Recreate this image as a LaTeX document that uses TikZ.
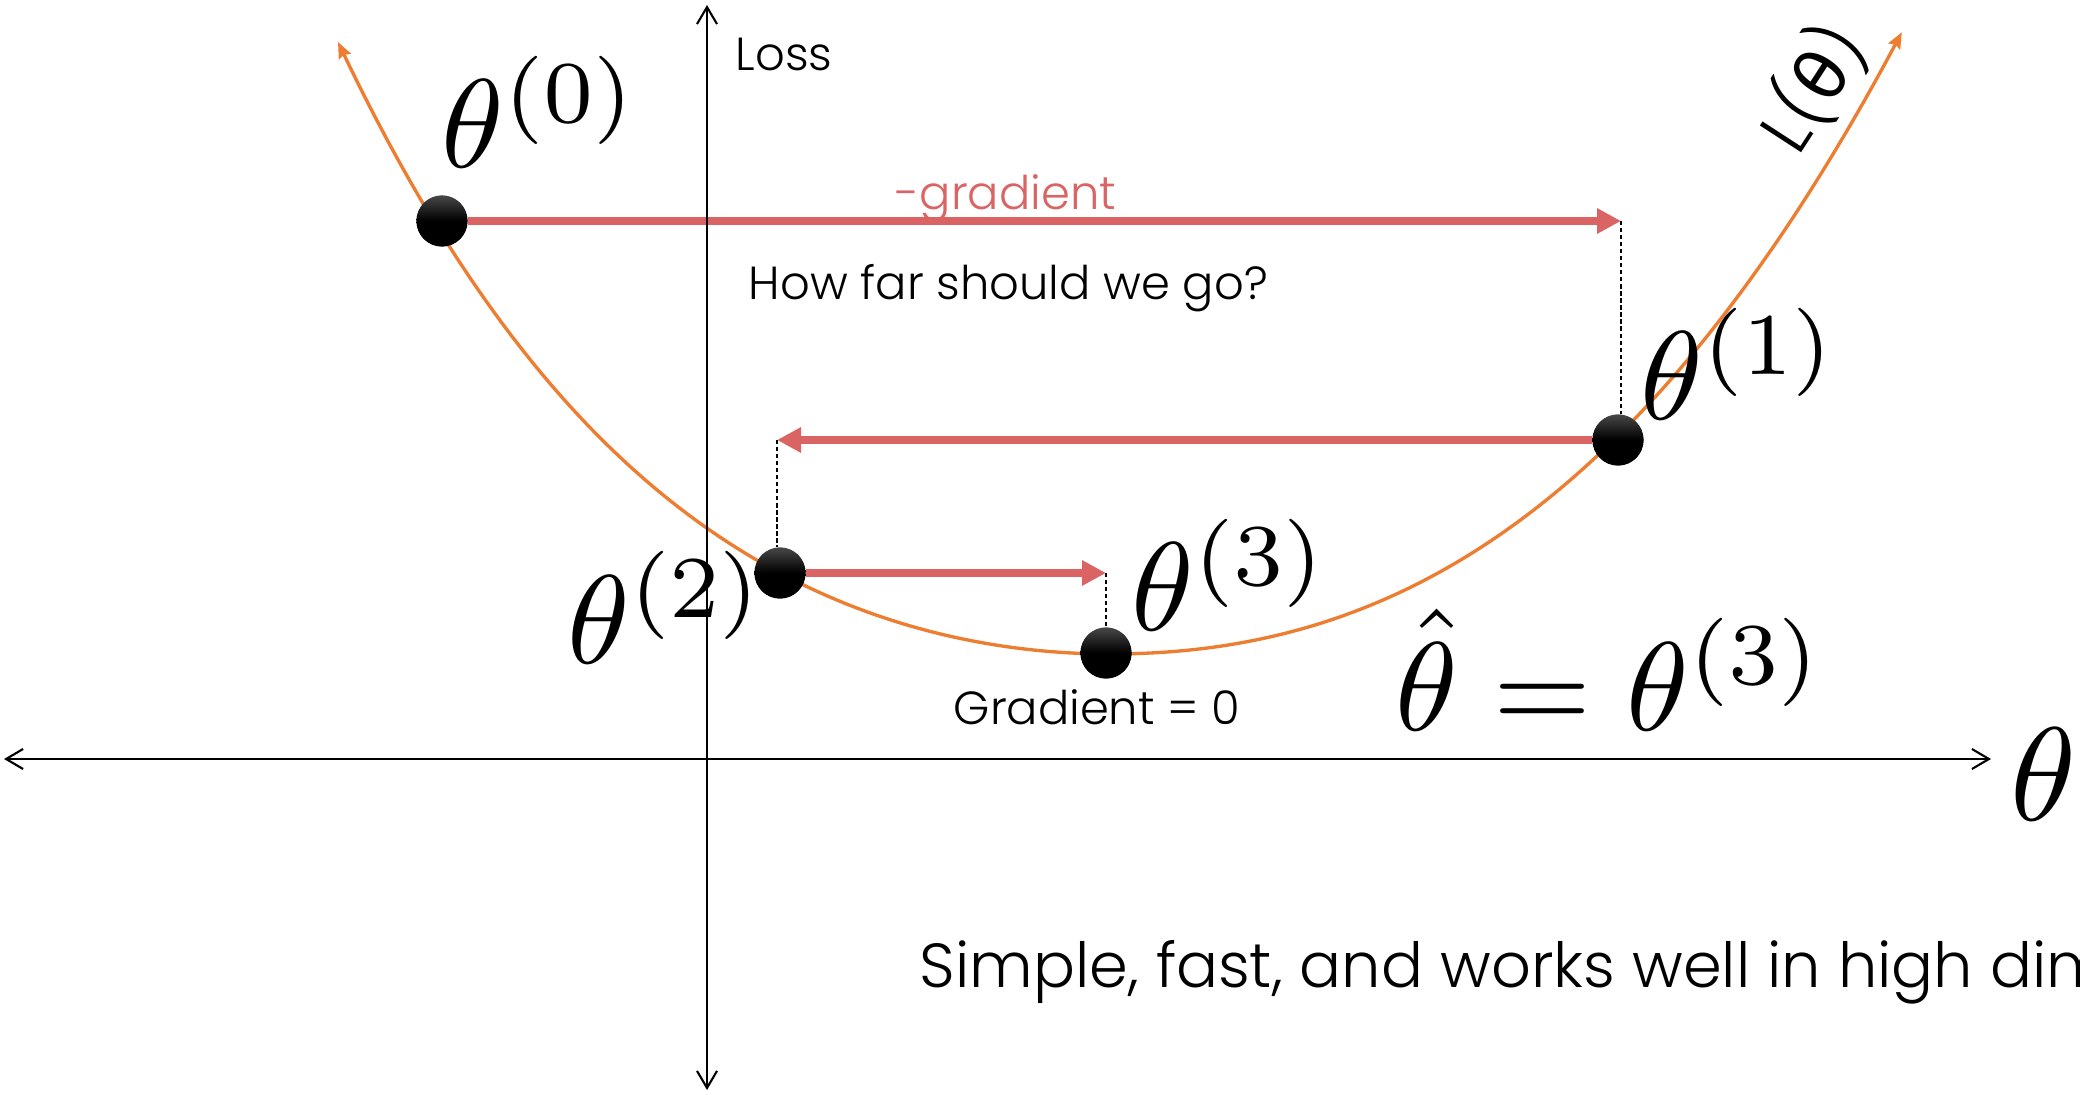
\RequirePackage{fix-cm}
\documentclass[tikz,border=0pt]{standalone}
\usepackage[no-math]{fontspec}
\setmainfont{Poppins Light}
\newfontfamily\greekfont{DejaVu Sans}
\usetikzlibrary{arrows.meta}
\definecolor{gdred}{RGB}{218,99,99}
\definecolor{lossorange}{RGB}{237,125,49}
\begin{document}
\begin{tikzpicture}[x=0.01cm,y=-0.01cm,
  ball/.style={circle,minimum size=0.51cm,inner sep=0pt,draw=none,
    top color=black!72,bottom color=black,middle color=black},
  gradarrow/.style={draw=gdred,line width=2.1pt,
    -{Triangle[length=0.24cm,width=0.24cm]}},
  guide/.style={draw=black,line width=0.4pt,dash pattern=on 1.2pt off 0.8pt},
  axisline/.style={draw=black,line width=0.6pt,
    {Straight Barb[length=0.17cm,width=0.2cm]}-{Straight Barb[length=0.17cm,width=0.2cm]}},
  losscurve/.style={draw=lossorange,line width=0.95pt,
    {Stealth[length=0.16cm,width=0.13cm,inset=0.02cm]}-{Stealth[length=0.16cm,width=0.13cm,inset=0.02cm]}},
  lbl/.style={inner sep=0pt,font=\fontsize{13.2pt}{16pt}\selectfont},
  biglbl/.style={inner sep=0pt,font=\fontsize{17.7pt}{21pt}\selectfont},
  mathlbl/.style={inner sep=0pt,font=\fontsize{10pt}{12pt}\selectfont,scale=3.585},
]
\clip (0,0) rectangle (2080,1095);
\useasboundingbox (0,0) rectangle (2080,1095);

% loss curve
\draw[losscurve] plot[domain=-7.72:7.92,samples=260,variable=\u]
  ({1110+100*\u},{654-(\u<0 ? 6.80*\u*\u+0.0582*\u*\u*\u*\u : 5.84*\u*\u+0.515*\u*\u*\u)});

% points
\node[ball] (d0) at (442,221) {};
\node[ball] (d1) at (1618,440) {};
\node[ball] (d2) at (780,573) {};
\node[ball] (d3) at (1106,653) {};

\coordinate (tip1) at (1621,221);
\coordinate (tip2) at (777,440);
\coordinate (tip3) at (1106,573);

% guides
\draw[guide] (tip1) -- (tip1 |- d1.north);
\draw[guide] (tip2) -- (tip2 |- d2.north);
\draw[guide] (tip3) -- (tip3 |- d3.north);

% gradient steps
\draw[gradarrow] (d0) -- (tip1);
\draw[gradarrow] (d1) -- (tip2);
\draw[gradarrow] (d2) -- (tip3);

% axes
\coordinate (xl) at (4,759);
\coordinate (xr) at (1991,759);
\coordinate (yt) at (707,5);
\coordinate (yb) at (707,1090);
\draw[axisline] (xl) -- (xr);
\draw[axisline] (yb) -- (yt);

% balls on top
\node[ball] at (d0) {};
\node[ball] at (d1) {};
\node[ball] at (d2) {};
\node[ball] at (d3) {};

% text labels
\node[lbl,anchor=base west] (loss) at (735,71) {Loss};
\node[lbl,anchor=base west,text=gdred] (grad) at (895,210) {-gradient};
\node[lbl,anchor=base west] (howfar) at (748,300) {How far should we go?};
\node[lbl,anchor=base west] (gzero) at (953,725) {Gradient = 0};
\node[biglbl,anchor=base west] (simple) at (919,987) {Simple, fast, and works well in high dim};
\node[inner sep=0pt,rotate=57,font=\fontsize{20pt}{24pt}\selectfont] (ltheta) at (1812,88) {L({\greekfont θ})};

% math labels
\node[mathlbl,anchor=base west] (th0) at (439,168) {$\theta^{(0)}$};
\node[mathlbl,anchor=base west] (th1) at (1638,420) {$\theta^{(1)}$};
\node[mathlbl,anchor=base west] (th2) at (565,663) {$\theta^{(2)}$};
\node[mathlbl,anchor=base west] (th3) at (1129,631) {$\theta^{(3)}$};
\node[mathlbl,anchor=base west] (thhat) at (1393,730) {$\hat{\theta} = \theta^{(3)}$};
\node[inner sep=0pt,font=\fontsize{10pt}{12pt}\selectfont,scale=3.78,anchor=base west] (thaxis) at (2008,820) {$\theta$};
\end{tikzpicture}
\end{document}
